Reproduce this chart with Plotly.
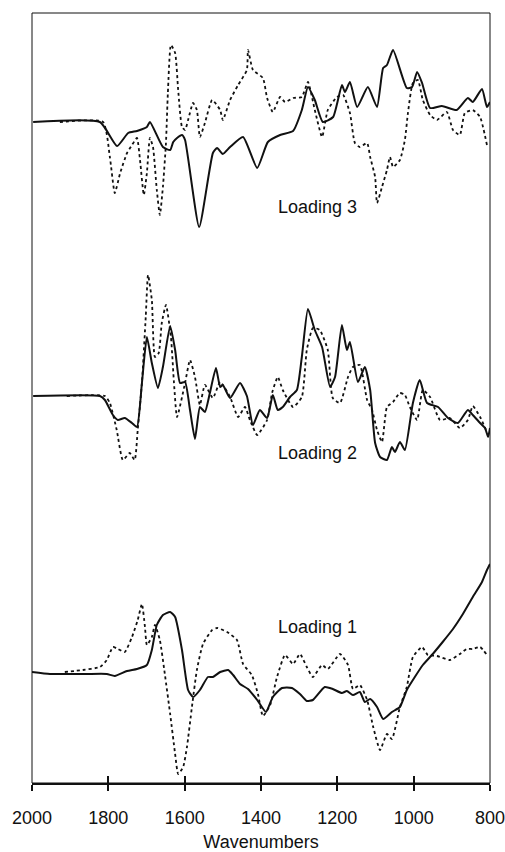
import plotly.graph_objects as go

# ---- data (wavenumber, loading value relative to its own baseline) ----
l3_solid_wn = [1997, 1822, 1777, 1748, 1725, 1699, 1691, 1657, 1638, 1630, 1620, 1607, 1599, 1562,
               1526, 1515, 1500, 1481, 1447, 1410, 1382, 1350, 1316, 1293, 1277, 1259, 1238, 1211,
               1188, 1180, 1167, 1148, 1120, 1096, 1080, 1070, 1054, 1018, 1004, 991, 978, 957,
               926, 887, 858, 845, 821, 808, 800]
l3_solid_v = [0, 0, -24, -11, -9, -5, 0, -25, -28, -20, -16, -13, -18, -105,
              -31, -26, -32, -25, -15, -46, -20, -13, -9, 12, 35, 22, 0, 5,
              37, 30, 40, 15, 35, 15, 54, 57, 72, 34, 35, 50, 39, 14,
              16, 12, 24, 20, 33, 15, 20]

l3_dot_wn = [1927, 1814, 1796, 1783, 1769, 1751, 1738, 1725, 1717, 1707, 1699, 1691, 1683, 1673,
             1665, 1657, 1649, 1644, 1636, 1625, 1617, 1607, 1599, 1591, 1578, 1568, 1560, 1547,
             1528, 1507, 1500, 1481, 1460, 1437, 1434, 1421, 1395, 1384, 1369, 1350, 1337, 1316,
             1293, 1277, 1259, 1240, 1225, 1201, 1185, 1167, 1154, 1141, 1122, 1114, 1101, 1096,
             1083, 1070, 1062, 1054, 1036, 1023, 1015, 1002, 989, 976, 957, 939, 913, 897, 879,
             866, 845, 826, 808]
l3_dot_v = [0, 0, -35, -71, -51, -31, -23, -16, -38, -73, -51, -16, -25, -68,
            -93, -65, -21, 29, 77, 69, 32, -5, -8, 2, 19, 12, -15, -1,
            22, 12, 2, 22, 37, 52, 72, 52, 44, 24, 10, 25, 20, 24,
            25, 40, 12, -15, 12, 25, 27, 9, -21, -25, -21, -35, -55, -81,
            -65, -48, -35, -45, -38, -18, 9, 39, 42, 22, 7, 2, 10, -8, -13,
            9, 12, 5, -23]

l2_solid_wn = [1997, 1822, 1809, 1788, 1775, 1757, 1738, 1725, 1712, 1699, 1686, 1670, 1657, 1638,
               1625, 1612, 1599, 1586, 1573, 1560, 1547, 1534, 1518, 1507, 1500, 1481, 1455, 1437,
               1421, 1403, 1384, 1369, 1356, 1343, 1324, 1306, 1293, 1277, 1259, 1240, 1219, 1206,
               1188, 1175, 1167, 1146, 1128, 1114, 1101, 1088, 1070, 1057, 1049, 1036, 1023, 1002,
               984, 965, 936, 910, 884, 858, 845, 826, 813, 805, 800]
l2_solid_v = [0, 0, -4, -19, -24, -22, -27, -31, 13, 59, 33, 8, 29, 70,
              46, 13, 14, -14, -43, -11, -16, 3, 28, 9, 11, -2, 13, 0,
              -29, -14, -22, 1, -14, -11, -1, 6, 39, 87, 66, 49, 9, 19,
              71, 46, 54, 14, 29, 6, -47, -61, -64, -51, -56, -46, -54, -7,
              16, -7, -11, -22, -27, -14, -19, -27, -32, -41, -32]

l2_dot_wn = [1909, 1809, 1796, 1778, 1762, 1744, 1731, 1723, 1712, 1702, 1696, 1686, 1678, 1668,
             1660, 1649, 1636, 1628, 1620, 1599, 1586, 1573, 1560, 1547, 1526, 1507, 1481, 1460,
             1442, 1429, 1410, 1384, 1371, 1356, 1343, 1316, 1293, 1280, 1264, 1246, 1225, 1212,
             1193, 1172, 1159, 1141, 1122, 1109, 1096, 1083, 1070, 1054, 1036, 1023, 1010, 991,
             976, 957, 931, 905, 879, 858, 845, 826, 808]
l2_dot_v = [0, 0, -7, -34, -64, -57, -64, -34, 13, 79, 121, 96, 39, 43,
            73, 91, 59, 13, -21, 13, 36, 19, -9, 11, -2, 14, -1, -21,
            -11, -24, -39, -24, 3, 19, 6, -11, -1, 46, 68, 66, 46, -2,
            -7, 19, 29, 31, -4, -14, -34, -46, -11, -6, 3, 1, -11, -24,
            6, -1, -24, -22, -32, -24, -10, -21, -36]

l1_solid_wn = [2000, 1953, 1909, 1857, 1804, 1783, 1751, 1725, 1699, 1686, 1673, 1657, 1638, 1625,
               1607, 1591, 1578, 1560, 1539, 1526, 1507, 1486, 1473, 1455, 1434, 1410, 1387, 1369,
               1345, 1319, 1298, 1280, 1264, 1233, 1212, 1188, 1175, 1159, 1141, 1128, 1114, 1096,
               1080, 1057, 1036, 1018, 997, 976, 950, 924, 897, 871, 845, 821, 808, 800]
l1_solid_v = [0, -2, -2, -2, -2, -4, 1, 3, 7, 22, 47, 57, 60, 55,
              22, -18, -25, -18, -5, -5, 0, 2, -3, -12, -17, -28, -40, -25,
              -16, -16, -22, -29, -28, -15, -17, -21, -19, -23, -20, -30, -27, -35,
              -47, -40, -35, -18, -5, 7, 18, 30, 43, 58, 75, 90, 102, 108]

l1_dot_wn = [1914, 1867, 1822, 1804, 1788, 1775, 1757, 1738, 1723, 1712, 1704, 1699, 1686, 1678,
             1665, 1652, 1638, 1625, 1617, 1604, 1594, 1581, 1568, 1552, 1528, 1515, 1489, 1463,
             1447, 1424, 1408, 1395, 1376, 1358, 1337, 1316, 1298, 1280, 1264, 1240, 1225, 1193,
             1172, 1159, 1141, 1122, 1106, 1088, 1070, 1057, 1036, 1018, 1002, 978, 963, 939,
             905, 879, 861, 845, 826, 808]
l1_dot_v = [0, 2, 5, 12, 25, 23, 20, 35, 52, 68, 45, 27, 35, 47,
            32, -2, -42, -82, -102, -95, -75, -35, 2, 28, 42, 44, 40, 32,
            8, -3, -22, -44, -33, -5, 17, 8, 18, 5, -5, 7, 3, 18,
            7, -17, -13, -28, -55, -78, -62, -67, -35, -15, 15, 25, 17, 16,
            12, 18, 23, 23, 25, 17]

offsets = {"Loading 3": 661, "Loading 2": 387, "Loading 1": 111}
labels = ["Loading 3", "Loading 2", "Loading 1"]
label_pos_wn = 1253
label_pos_y = {"Loading 3": 576, "Loading 2": 330, "Loading 1": 156}

x_ticks = [2000, 1800, 1600, 1400, 1200, 1000, 800]

series = [
    ("Loading 3", l3_solid_wn, l3_solid_v, "solid"),
    ("Loading 3", l3_dot_wn, l3_dot_v, "dot"),
    ("Loading 2", l2_solid_wn, l2_solid_v, "solid"),
    ("Loading 2", l2_dot_wn, l2_dot_v, "dot"),
    ("Loading 1", l1_solid_wn, l1_solid_v, "solid"),
    ("Loading 1", l1_dot_wn, l1_dot_v, "dot"),
]

fig = go.Figure()
for name, wn, v, dash in series:
    off = offsets[name]
    fig.add_trace(go.Scatter(
        x=wn, y=[val + off for val in v], mode="lines",
        line=dict(color="#111111", width=2 if dash == "solid" else 1.8,
                  dash=dash, shape="spline", smoothing=0.5),
        showlegend=False, hoverinfo="skip"))

# helper trace for inside ticks
fig.add_trace(go.Scatter(x=[], y=[], xaxis="x2", showlegend=False))

font = dict(family="Liberation Sans, Arial, sans-serif", size=18, color="#111")
for name in labels:
    fig.add_annotation(x=label_pos_wn, y=label_pos_y[name], text=name, showarrow=False, font=font)

fig.update_layout(
    width=505, height=852,
    margin=dict(l=32, r=15, t=13, b=69, autoexpand=False),
    paper_bgcolor="white", plot_bgcolor="white",
    font=font,
    xaxis=dict(range=[2000, 800], tickvals=x_ticks, ticktext=[str(t) for t in x_ticks],
               ticks="outside", ticklen=6, tickwidth=1.5, tickcolor="#111",
               showline=True, linewidth=2, linecolor="#111", showgrid=False, zeroline=False,
               ticklabelstandoff=11, ticklabeloverflow="allow", automargin=True,
               title=dict(text="Wavenumbers", standoff=9, font=font)),
    xaxis2=dict(range=[2000, 800], overlaying="x", anchor="y", side="bottom",
                tickvals=x_ticks, showticklabels=False, ticks="inside", ticklen=7,
                tickwidth=1.5, tickcolor="#111", showline=False, showgrid=False, zeroline=False,
                automargin=False),
    yaxis=dict(range=[0, 770], showticklabels=False, ticks="", showgrid=False, zeroline=False,
               showline=False, automargin=False),
    shapes=[dict(type="rect", xref="paper", yref="paper", x0=0, x1=1, y0=0, y1=1,
                 line=dict(color="#111", width=1))],
)

fig.write_html("out.html", config={"displayModeBar": False},
               post_script="document.body.style.margin='0';document.body.style.overflow='hidden';")
